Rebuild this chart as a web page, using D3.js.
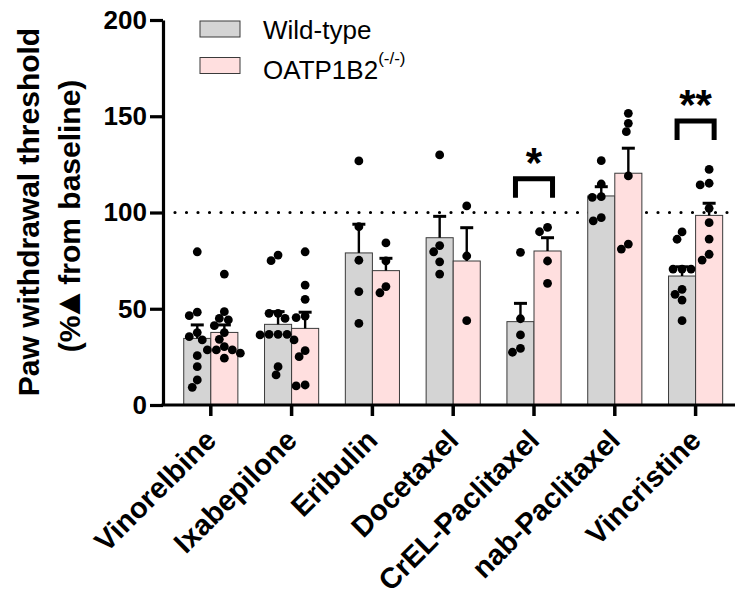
<!DOCTYPE html>
<html>
<head>
<meta charset="utf-8">
<script src="https://cdn.jsdelivr.net/npm/d3@7"></script>
<style>
    body { margin: 0; background: #fff; }
    text { font-family: Arial, "Liberation Sans", Helvetica, sans-serif; }
</style>
</head>
<body>
<script>
var drugs = ["Vinorelbine", "Ixabepilone", "Eribulin", "Docetaxel", "CrEL-Paclitaxel", "nab-Paclitaxel", "Vincristine"]
var groups = ["Wild-type", "OATP1B2"]
var yTicks = [0, 50, 100, 150, 200]

// bar means and SEM
var wtMean = [34.6, 41.9, 79.0, 86.9, 43.3, 108.6, 67.0]
var wtSem = [7.0, 6.6, 14.9, 11.1, 9.5, 4.8, 4.8]
var koMean = [37.7, 39.8, 69.8, 74.8, 80.0, 120.4, 98.5]
var koSem = [3.9, 8.4, 6.4, 17.3, 6.9, 13.0, 6.3]

// single animals
var wtPoints = [
    [79.6, 48.2, 46.4, 37.6, 33.8, 35.5, 25.6, 19.9, 13.0, 9.2],
    [75.0, 77.9, 47.6, 47.6, 45.0, 36.4, 36.7, 33.8, 36.7, 36.7, 19.9, 15.6],
    [126.8, 92.6, 75.2, 58.9, 42.4],
    [129.9, 79.6, 82.8, 74.4, 68.0],
    [79.3, 44.8, 36.4, 27.4, 29.4],
    [126.9, 114.8, 107.9, 108.2, 95.7, 97.3],
    [89.9, 86.1, 70.6, 70.6, 70.6, 60.1, 57.5, 54.5, 43.8]
]
var koPoints = [
    [68.0, 48.5, 45.0, 44.2, 41.2, 37.6, 34.1, 28.6, 30.3, 28.6, 28.6, 24.3, 26.9],
    [79.6, 62.3, 54.9, 45.4, 46.2, 25.1, 28.2, 9.9, 10.4],
    [84.2, 74.8, 58.3, 61.5],
    [103.4, 77.4, 43.8],
    [90.0, 92.3, 74.8, 63.2],
    [151.5, 146.3, 142.0, 119.0, 81.0, 83.6],
    [122.4, 115.2, 114.3, 102.2, 94.7, 86.2, 75.3, 78.3]
]

// significance: drug, bracket level, label
var sigDrugs = ["CrEL-Paclitaxel", "Vincristine"]
var sigLevel = [117.5, 147.5]
var sigLabel = ["*", "**"]

var baseline = 100

var colors = { "Wild-type": "#d4d4d4", "OATP1B2": "#ffdfdf" }

var W = 735, H = 592
var svg = d3.select("body").append("svg")
    .attr("width", W)
    .attr("height", H)

var y = d3.scaleLinear().domain([0, 200]).range([405, 20])
var x = d3.scaleBand().domain(drugs).range([170.4, 736])
    .paddingInner(0.33).paddingOuter(0.165)
var x1 = d3.scaleBand().domain(groups).range([0, x.bandwidth()])

var rows = drugs.map(function (d, i) {
    return [
        { drug: d, g: "Wild-type", mean: wtMean[i], sem: wtSem[i], pts: wtPoints[i] },
        { drug: d, g: "OATP1B2", mean: koMean[i], sem: koSem[i], pts: koPoints[i] }
    ]
})
var bars = d3.merge(rows)

// dotted reference line (behind bars)
svg.append("line")
    .attr("x1", 175).attr("x2", W)
    .attr("y1", y(baseline)).attr("y2", y(baseline))
    .attr("stroke", "#000")
    .attr("stroke-width", 3.2)
    .attr("stroke-linecap", "round")
    .attr("stroke-dasharray", "0 11.5")

// bars
svg.selectAll("rect.bar").data(bars).enter().append("rect")
    .attr("class", "bar")
    .attr("x", function (d) { return x(d.drug) + x1(d.g) })
    .attr("width", x1.bandwidth())
    .attr("y", function (d) { return y(d.mean) })
    .attr("height", function (d) { return y(0) - y(d.mean) })
    .attr("fill", function (d) { return colors[d.g] })
    .attr("stroke", "#3a3a3a")
    .attr("stroke-width", 1)

// error bars (upper only)
var cx = function (d) { return x(d.drug) + x1(d.g) + x1.bandwidth() / 2 }
var eb = svg.selectAll("g.eb").data(bars).enter().append("g").attr("class", "eb")
eb.append("line")
    .attr("x1", cx).attr("x2", cx)
    .attr("y1", function (d) { return y(d.mean) })
    .attr("y2", function (d) { return y(d.mean + d.sem) })
    .attr("stroke", "#000").attr("stroke-width", 2.4)
eb.append("line")
    .attr("x1", function (d) { return cx(d) - 6.5 })
    .attr("x2", function (d) { return cx(d) + 6.5 })
    .attr("y1", function (d) { return y(d.mean + d.sem) })
    .attr("y2", function (d) { return y(d.mean + d.sem) })
    .attr("stroke", "#000").attr("stroke-width", 3)

// simple beeswarm so the dots do not sit on top of each other
var r = 4.4
var swarm = function (vals) {
    var placed = []
    var sorted = vals.slice().sort(function (a, b) { return b - a })
    sorted.forEach(function (v) {
        var py = y(v)
        for (var k = 0; k < 60; k++) {
            var off = (k % 2 == 0 ? 1 : -1) * Math.ceil(k / 2)
            var ok = placed.every(function (p) {
                var dx = p.dx - off, dy = p.y - py
                return dx * dx + dy * dy >= (2 * r * 0.95) * (2 * r * 0.95)
            })
            if (ok) {
                placed.push({ dx: off, y: py })
                break
            }
        }
    })
    return placed
}

bars.forEach(function (d) {
    var pts = swarm(d.pts)
    svg.selectAll(null).data(pts).enter().append("circle")
        .attr("cx", function (p) { return cx(d) + p.dx })
        .attr("cy", function (p) { return p.y })
        .attr("r", r)
        .attr("fill", "#000")
})

// y axis
var yAxis = svg.append("g")
    .attr("transform", "translate(163,0)")
    .call(d3.axisLeft(y).tickValues(yTicks).tickSize(13).tickSizeOuter(0).tickPadding(3))
yAxis.select(".domain").attr("stroke-width", 3.2)
yAxis.selectAll(".tick line").attr("stroke-width", 3.2)
yAxis.selectAll(".tick text")
    .attr("font-size", 26).attr("font-weight", "bold").attr("fill", "#000")
    .attr("font-family", "Arial, 'Liberation Sans', sans-serif")

// x axis
var xAxis = svg.append("g")
    .attr("transform", "translate(0,405)")
xAxis.append("line")
    .attr("x1", 161.4).attr("x2", W)
    .attr("stroke", "#000").attr("stroke-width", 3.2)
xAxis.selectAll("line.tk").data(drugs).enter().append("line")
    .attr("class", "tk")
    .attr("x1", function (d) { return x(d) + x.bandwidth() / 2 })
    .attr("x2", function (d) { return x(d) + x.bandwidth() / 2 })
    .attr("y1", 0).attr("y2", 11)
    .attr("stroke", "#000").attr("stroke-width", 3.5)
xAxis.selectAll("text").data(drugs).enter().append("text")
    .attr("transform", function (d) {
        return "translate(" + (x(d) + x.bandwidth() / 2 + 7) + ",37) rotate(-45)"
    })
    .attr("text-anchor", "end")
    .attr("font-size", 29)
    .attr("font-weight", "bold")
    .text(function (d) { return d })

// y title
var yt = svg.append("text")
    .attr("transform", "rotate(-90)")
    .attr("text-anchor", "middle")
    .attr("font-size", 30)
    .attr("font-weight", "bold")
yt.append("tspan").attr("x", -212).attr("y", 39).text("Paw withdrawal threshold")
var l2 = yt.append("tspan").attr("x", -216).attr("y", 80)
l2.append("tspan").text("(%")
l2.append("tspan").attr("font-size", 36).attr("dx", -6).text("\u25B2")
l2.append("tspan").attr("dx", -7).text(" from baseline)")

// significance brackets
sigDrugs.forEach(function (d, i) {
    var xa = x(d) + x1.bandwidth() / 2 - 5
    var xb = x(d) + x1.bandwidth() * 1.5 + 5
    var top = y(sigLevel[i])
    svg.append("path")
        .attr("d", "M" + xa + "," + (top + 19) + "V" + top + "H" + xb + "V" + (top + 19))
        .attr("fill", "none")
        .attr("stroke", "#000")
        .attr("stroke-width", 5)
    svg.append("text")
        .attr("x", (xa + xb) / 2)
        .attr("y", top - 2)
        .attr("text-anchor", "middle")
        .attr("font-size", 42)
        .attr("font-weight", "bold")
        .text(sigLabel[i])
})

// legend
var lg = svg.append("g")
groups.forEach(function (g, i) {
    lg.append("rect")
        .attr("x", 200).attr("y", 21 + i * 36.5)
        .attr("width", 40).attr("height", 16)
        .attr("fill", colors[g])
        .attr("stroke", "#3a3a3a").attr("stroke-width", 1)
})
lg.append("text").attr("x", 263).attr("y", 39).attr("font-size", 26).text("Wild-type")
var t2 = lg.append("text").attr("x", 263).attr("y", 79).attr("font-size", 26)
t2.append("tspan").text("OATP1B2")
t2.append("tspan").attr("font-size", 17).attr("dy", -15).text("(-/-)")
</script>
</body>
</html>
